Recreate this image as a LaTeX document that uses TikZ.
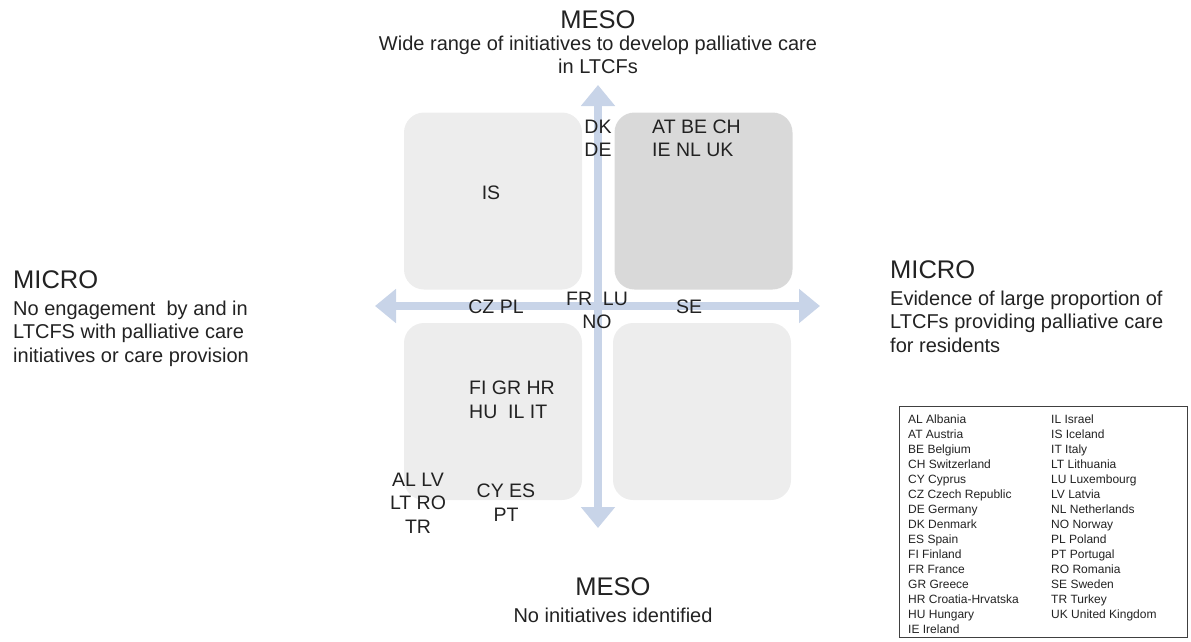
\documentclass[tikz,border=0pt]{standalone}
\usepackage{fontspec}
\setmainfont{Liberation Sans}
\usetikzlibrary{arrows.meta,positioning}

\definecolor{quadlight}{HTML}{EDEDED}
\definecolor{quaddark}{HTML}{D9D9D9}
\definecolor{axisblue}{HTML}{C8D4E8}
\definecolor{inktext}{HTML}{222222}
\definecolor{legendline}{HTML}{404040}

\tikzset{
  quad/.style={fill=quadlight, rounded corners=20pt, minimum width=178pt, minimum height=177pt, inner sep=0pt},
  axisarrow/.style={draw=axisblue, line width=8pt, >={Triangle[width=33pt,length=21pt]}, <->},
  tier/.style={font=\fontsize{25.5}{28}\selectfont, text=inktext, inner sep=0pt},
  blurb/.style={font=\fontsize{20}{23.5}\selectfont, text=inktext, inner sep=0pt},
  cntry/.style={font=\fontsize{19.5}{23.5}\selectfont, text=inktext, inner sep=0pt, align=center},
}

\begin{document}
\begin{tikzpicture}[x=1pt, y=-1pt]
    \useasboundingbox (0,0) rectangle (1191,641);

    % quadrants
    \node[quad] (tlbox) at (493,201) {};
    \node[quad, fill=quaddark] (trbox) at (703.5,201) {};
    \node[quad] (blbox) at (493,411.5) {};
    \node[quad] (brbox) at (702,411.5) {};

    % axes
    \coordinate (wtip) at (375,306);
    \coordinate (etip) at (820,306);
    \coordinate (ntip) at (598,85);
    \coordinate (stip) at (598,528);
    \draw[axisarrow] (wtip) -- (etip);
    \draw[axisarrow] (stip) -- (ntip);

    % axis labels
    \node[tier] (mesotop) at (598,20) {MESO};
    \node[blurb, align=center, below=6.5pt of mesotop] (mesotopdesc) {Wide range of initiatives to develop palliative care\\in LTCFs};
    \node[tier] (mesobot) at (613,587) {MESO};
    \node[blurb, below=11.5pt of mesobot] (mesobotdesc) {No initiatives identified};
    \node[tier, anchor=west] (microleft) at (13,280) {MICRO};
    \node[blurb, align=left, below right=11.5pt and 0pt of microleft.south west] (microleftdesc)
        {No engagement\ \ by and in\\LTCFS with palliative care\\initiatives or care provision};
    \node[tier, anchor=west] (microright) at (890,270) {MICRO};
    \node[blurb, align=left, below right=11.5pt and 0pt of microright.south west] (microrightdesc)
        {Evidence of large proportion of\\LTCFs providing palliative care\\for residents};

    % countries
    \node[cntry] (dkde) at (598,138.5) {DK\\DE};
    \node[cntry, align=left, anchor=west] (atbe) at (652,138.5) {AT BE CH\\IE NL UK};
    \node[cntry] (is) at (491,193) {IS};
    \node[cntry] (czpl) at (496,307) {CZ PL};
    \node[cntry] (frlu) at (597,310.5) {FR\ \ LU\\NO};
    \node[cntry] (se) at (689,307) {SE};
    \node[cntry, align=left, anchor=west] (figr) at (469,400) {FI GR HR\\HU\ \ IL IT};
    \node[cntry] (allv) at (418,503) {AL LV\\LT RO\\TR};
    \node[cntry] (cyes) at (506,502.5) {CY ES\\PT};

    % legend
    \node[draw=legendline, line width=0.8pt, minimum width=288pt, minimum height=231pt, inner sep=0pt, anchor=north west] (legend) at (899,406) {};
    \node[anchor=north west, inner sep=0pt, text=inktext, font=\fontsize{12}{15}\selectfont] (legendtext) at (908,413) {%
        \begin{tabular}{@{}p{143pt}@{}l@{}}
        AL Albania & IL Israel\\
        AT Austria & IS Iceland\\
        BE Belgium & IT Italy\\
        CH Switzerland & LT Lithuania\\
        CY Cyprus & LU Luxembourg\\
        CZ Czech Republic & LV Latvia\\
        DE Germany & NL Netherlands\\
        DK Denmark & NO Norway\\
        ES Spain & PL Poland\\
        FI Finland & PT Portugal\\
        FR France & RO Romania\\
        GR Greece & SE Sweden\\
        HR Croatia-Hrvatska & TR Turkey\\
        HU Hungary & UK United Kingdom\\
        IE Ireland &
        \end{tabular}};
\end{tikzpicture}
\end{document}
